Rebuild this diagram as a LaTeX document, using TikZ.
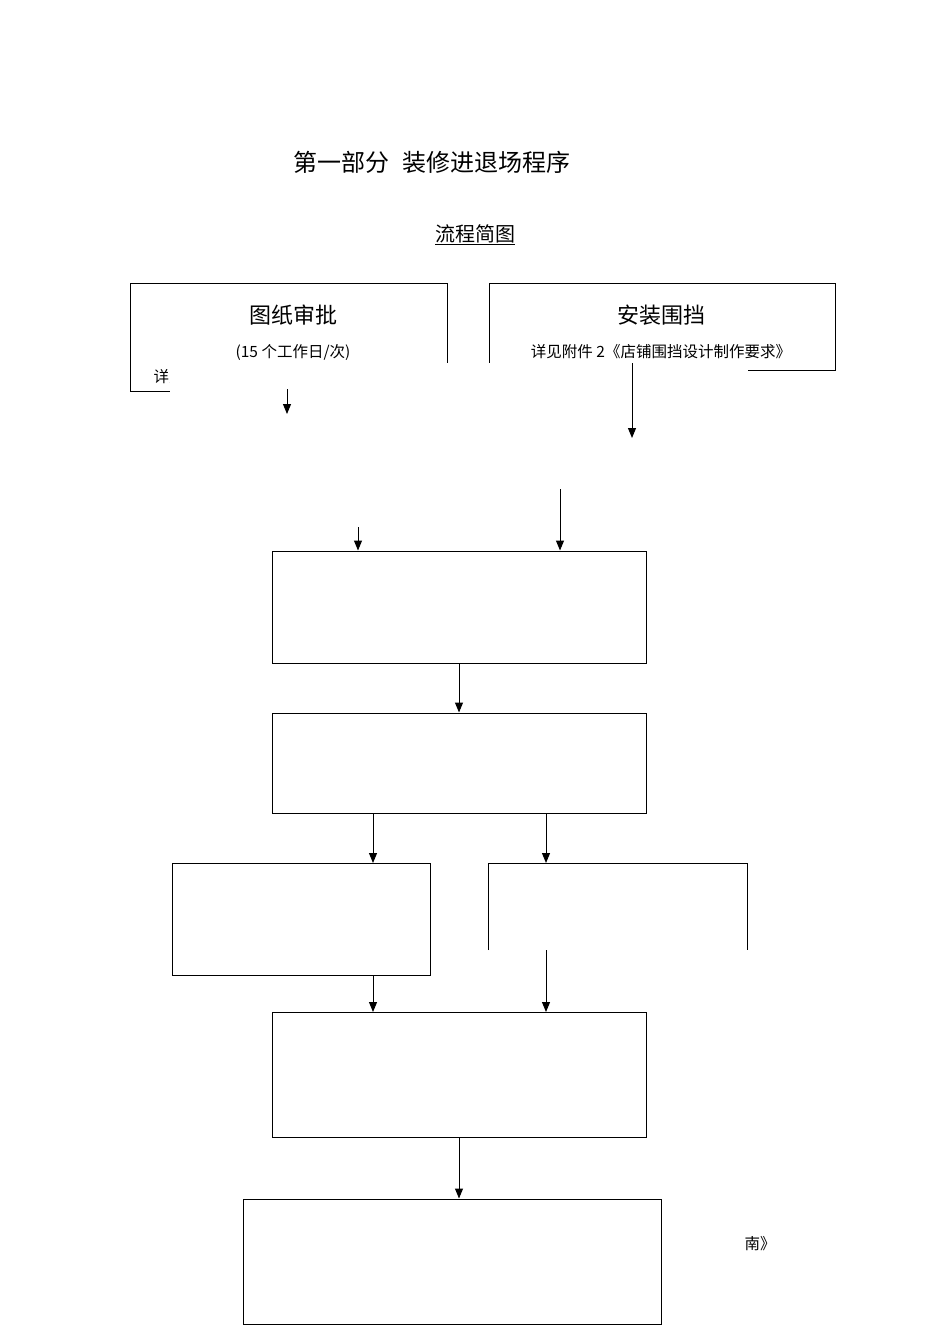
\documentclass[tikz,border=0pt]{standalone}
\usepackage{fontspec}
\setmainfont{Noto Sans CJK SC}
\usetikzlibrary{arrows.meta}
\begin{document}
\begin{tikzpicture}[x=1pt,y=-1pt,
  ln/.style={draw=black,line width=1pt},
  arr/.style={ln,-{Triangle[length=10pt,width=8pt]}},
  big/.style={font=\fontsize{22}{26}\selectfont},
  small/.style={font=\fontsize{15.5}{18}\selectfont}]
\useasboundingbox (0,0) rectangle (950,1344);
\node[font=\fontsize{24}{28}\selectfont] (title) at (432,162) {第一部分\hspace{14pt}装修进退场程序};
\node[font=\fontsize{20}{24}\selectfont] (sub) at (475,235) {\underline{流程简图}};
% top boxes
\draw[ln] (130,283) rectangle (447,391);
\draw[ln] (489,283) rectangle (835,370);
\node[big] (t1) at (293,315) {图纸审批};
\node[small] (t1b) at (293,352) {(15 个工作日/次)};
\node[small,anchor=west] (t1c) at (150,377) {详见附件1};
\node[big] (t2) at (661,315) {安装围挡};
\node[small] (t2b) at (661,352) {详见附件 2《店铺围挡设计制作要求》};
\fill[white] (170,363) rectangle (748,400);
\coordinate (a1s) at (287,389); \coordinate (a1e) at (287,414);
\coordinate (a2s) at (632,363); \coordinate (a2e) at (632,438);
\draw[arr] (a1s) -- (a1e);
\draw[arr] (a2s) -- (a2e);
% box A
\coordinate (a3s) at (358,527); \coordinate (a4s) at (560,489);
\node[ln,minimum width=374pt,minimum height=112pt,inner sep=0pt] (A) at (459,607) {};
\draw[arr] (a3s) -- (a3s |- A.north);
\draw[arr] (a4s) -- (a4s |- A.north);
\node[ln,minimum width=374pt,minimum height=100pt,inner sep=0pt] (B) at (459,763) {};
\draw[arr] (A.south) -- (B.north);
\node[ln,minimum width=258pt,minimum height=112pt,inner sep=0pt] (C) at (301,919) {};
\draw[arr] (373,813) -- (373,863);
\coordinate (Dtl) at (488,863); \coordinate (Dtr) at (747,863);
\draw[ln] (488,950) -- (Dtl) -- (Dtr) -- (747,950);
\draw[arr] (546,813) -- (546,863);
\node[ln,minimum width=374pt,minimum height=125pt,inner sep=0pt] (E) at (459,1074.5) {};
\draw[arr] (373,975) -- (373,1012);
\draw[arr] (546,950) -- (546,1012);
\node[ln,minimum width=418pt,minimum height=125pt,inner sep=0pt] (F) at (452,1261.5) {};
\draw[arr] (E.south) -- (E.south |- F.north);
\node[small] (nan) at (760,1244) {南》};
\end{tikzpicture}
\end{document}
